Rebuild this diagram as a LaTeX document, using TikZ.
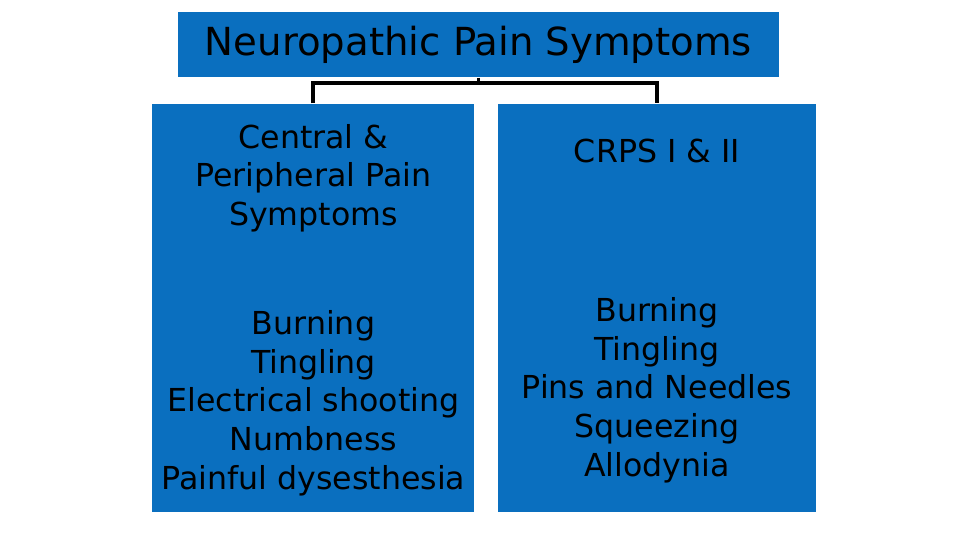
\documentclass[tikz,border=0pt]{standalone}
\usepackage{fontspec}
\setmainfont{DejaVu Sans}
\usetikzlibrary{positioning,calc}
\definecolor{panelblue}{HTML}{0A6FBF}

\begin{document}
\begin{tikzpicture}[
    every node/.style={font=\fontsize{9}{11}\selectfont, text=black},
    panel/.style={rectangle, fill=panelblue, draw=none, inner sep=0pt},
    label/.style={align=center, inner sep=0pt},
    link/.style={line width=1.1pt, black},
]

% Page frame
\useasboundingbox (0,0) rectangle (9.6,5.4);

% Title box
\node[panel, minimum width=6.01cm, minimum height=0.65cm,
    font=\fontsize{11}{13}\selectfont] (title) at (4.785,4.955)
    {Neuropathic Pain Symptoms};

% Two columns
\node[panel, minimum width=3.22cm, minimum height=4.08cm] (central) at (3.13,2.32) {};
\node[panel, minimum width=3.18cm, minimum height=4.08cm] (crps) at (6.57,2.32) {};

% Column headings
\node[label] (centralhead) at (3.135,3.62) {Central \&\\Peripheral Pain\\Symptoms};
\node[label] (crpshead) at (6.57,3.89) {CRPS I \& II};

% Symptom lists
\node[label] (centrallist) at (3.135,1.37)
    {Burning\\Tingling\\Electrical shooting\\Numbness\\Painful dysesthesia};
\node[label] (crpslist) at (6.57,1.50)
    {Burning\\Tingling\\Pins and Needles\\Squeezing\\Allodynia};

% Bracket connector
\coordinate (bar) at (title.south |- 0,4.57);
\draw[link] (title.south) -- (bar);
\draw[link] (central.north) |- (bar) -| (crps.north);

\end{tikzpicture}
\end{document}
